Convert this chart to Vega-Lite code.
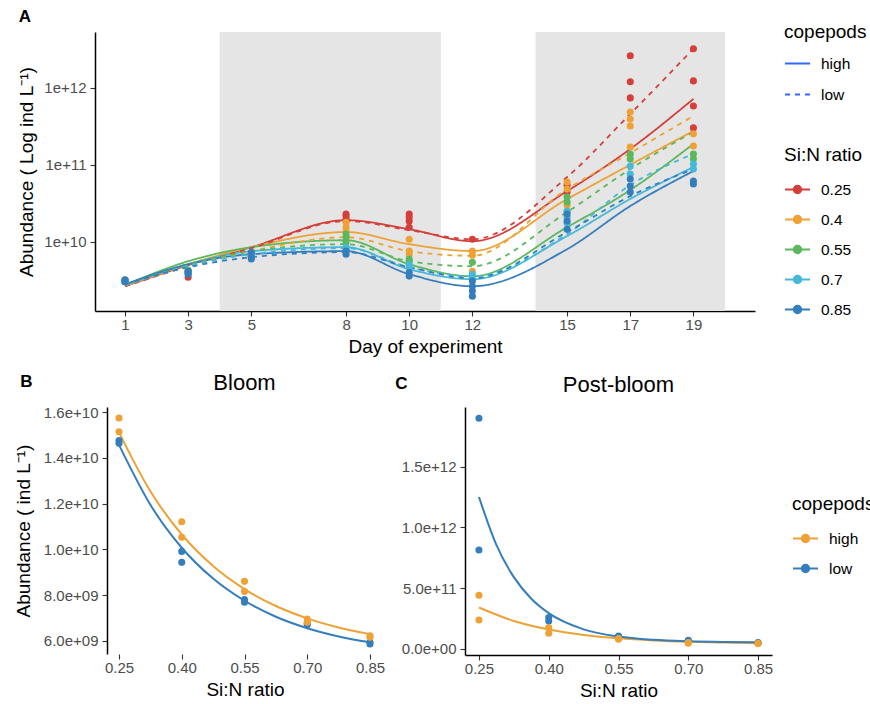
{
  "$schema": "https://vega.github.io/schema/vega-lite/v6.json",
  "padding": {"left": 14, "top": 8, "right": 0, "bottom": 0},
  "background": "white",
  "config": {
    "font": "Liberation Sans",
    "view": {"stroke": null},
    "axis": {"domainColor": "#000000", "domainWidth": 1.5, "tickColor": "#333333", "tickWidth": 1.1, "tickSize": 5, "labelColor": "#4D4D4D", "labelFontSize": 15, "labelPadding": 2, "titleFontSize": 19, "titleFontWeight": "normal", "titleColor": "#000000", "grid": false, "labelFlush": false},
    "axisY": {"titlePadding": 7, "labelPadding": 4},
    "axisX": {"titlePadding": 5, "labelPadding": 1},
    "legend": {"labelFontSize": 15.5, "titleFontSize": 19, "titleFontWeight": "normal", "titleColor": "#000000", "labelColor": "#000000", "rowPadding": 8, "titlePadding": 11, "labelOffset": 10, "symbolSize": 625, "symbolStrokeWidth": 2},
    "title": {"fontSize": 22, "fontWeight": "normal", "color": "#000000", "offset": 10}
  },
  "datasets": {
    "shade": [{"start": 4, "end": 11}, {"start": 14, "end": 20}],
    "fitA": [
      {"day": 1, "ratio": "0.25", "copepods": "high", "abundance": 2.66e9},
      {"day": 3, "ratio": "0.25", "copepods": "high", "abundance": 4.98e9},
      {"day": 5, "ratio": "0.25", "copepods": "high", "abundance": 8.53e9},
      {"day": 8, "ratio": "0.25", "copepods": "high", "abundance": 1.91e10},
      {"day": 10, "ratio": "0.25", "copepods": "high", "abundance": 1.46e10},
      {"day": 12, "ratio": "0.25", "copepods": "high", "abundance": 1.02e10},
      {"day": 15, "ratio": "0.25", "copepods": "high", "abundance": 4.55e10},
      {"day": 17, "ratio": "0.25", "copepods": "high", "abundance": 1.6e11},
      {"day": 19, "ratio": "0.25", "copepods": "high", "abundance": 7.13e11},
      {"day": 1, "ratio": "0.4", "copepods": "high", "abundance": 2.66e9},
      {"day": 3, "ratio": "0.4", "copepods": "high", "abundance": 5.13e9},
      {"day": 5, "ratio": "0.4", "copepods": "high", "abundance": 8.53e9},
      {"day": 8, "ratio": "0.4", "copepods": "high", "abundance": 1.34e10},
      {"day": 10, "ratio": "0.4", "copepods": "high", "abundance": 9.33e9},
      {"day": 12, "ratio": "0.4", "copepods": "high", "abundance": 7.6e9},
      {"day": 15, "ratio": "0.4", "copepods": "high", "abundance": 3.59e10},
      {"day": 17, "ratio": "0.4", "copepods": "high", "abundance": 1.0e11},
      {"day": 19, "ratio": "0.4", "copepods": "high", "abundance": 2.74e11},
      {"day": 1, "ratio": "0.55", "copepods": "high", "abundance": 2.74e9},
      {"day": 3, "ratio": "0.55", "copepods": "high", "abundance": 5.61e9},
      {"day": 5, "ratio": "0.55", "copepods": "high", "abundance": 8.53e9},
      {"day": 8, "ratio": "0.55", "copepods": "high", "abundance": 1.05e10},
      {"day": 10, "ratio": "0.55", "copepods": "high", "abundance": 5.13e9},
      {"day": 12, "ratio": "0.55", "copepods": "high", "abundance": 3.58e9},
      {"day": 15, "ratio": "0.55", "copepods": "high", "abundance": 1.55e10},
      {"day": 17, "ratio": "0.55", "copepods": "high", "abundance": 4.7e10},
      {"day": 19, "ratio": "0.55", "copepods": "high", "abundance": 1.86e11},
      {"day": 1, "ratio": "0.7", "copepods": "high", "abundance": 2.74e9},
      {"day": 3, "ratio": "0.7", "copepods": "high", "abundance": 5.13e9},
      {"day": 5, "ratio": "0.7", "copepods": "high", "abundance": 7.57e9},
      {"day": 8, "ratio": "0.7", "copepods": "high", "abundance": 8.53e9},
      {"day": 10, "ratio": "0.7", "copepods": "high", "abundance": 4.42e9},
      {"day": 12, "ratio": "0.7", "copepods": "high", "abundance": 3.28e9},
      {"day": 15, "ratio": "0.7", "copepods": "high", "abundance": 1.19e10},
      {"day": 17, "ratio": "0.7", "copepods": "high", "abundance": 3.6e10},
      {"day": 19, "ratio": "0.7", "copepods": "high", "abundance": 9.34e10},
      {"day": 1, "ratio": "0.85", "copepods": "high", "abundance": 2.82e9},
      {"day": 3, "ratio": "0.85", "copepods": "high", "abundance": 5.13e9},
      {"day": 5, "ratio": "0.85", "copepods": "high", "abundance": 6.92e9},
      {"day": 8, "ratio": "0.85", "copepods": "high", "abundance": 7.57e9},
      {"day": 10, "ratio": "0.85", "copepods": "high", "abundance": 3.81e9},
      {"day": 12, "ratio": "0.85", "copepods": "high", "abundance": 2.66e9},
      {"day": 15, "ratio": "0.85", "copepods": "high", "abundance": 8.04e9},
      {"day": 17, "ratio": "0.85", "copepods": "high", "abundance": 2.91e10},
      {"day": 19, "ratio": "0.85", "copepods": "high", "abundance": 8.28e10},
      {"day": 1, "ratio": "0.25", "copepods": "low", "abundance": 2.66e9},
      {"day": 3, "ratio": "0.25", "copepods": "low", "abundance": 4.83e9},
      {"day": 5, "ratio": "0.25", "copepods": "low", "abundance": 8.28e9},
      {"day": 8, "ratio": "0.25", "copepods": "low", "abundance": 1.86e10},
      {"day": 10, "ratio": "0.25", "copepods": "low", "abundance": 1.42e10},
      {"day": 12, "ratio": "0.25", "copepods": "low", "abundance": 1.08e10},
      {"day": 15, "ratio": "0.25", "copepods": "low", "abundance": 6.92e10},
      {"day": 17, "ratio": "0.25", "copepods": "low", "abundance": 4.55e11},
      {"day": 19, "ratio": "0.25", "copepods": "low", "abundance": 3.18e12},
      {"day": 1, "ratio": "0.4", "copepods": "low", "abundance": 2.74e9},
      {"day": 3, "ratio": "0.4", "copepods": "low", "abundance": 4.83e9},
      {"day": 5, "ratio": "0.4", "copepods": "low", "abundance": 7.57e9},
      {"day": 8, "ratio": "0.4", "copepods": "low", "abundance": 1.15e10},
      {"day": 10, "ratio": "0.4", "copepods": "low", "abundance": 7.57e9},
      {"day": 12, "ratio": "0.4", "copepods": "low", "abundance": 6.6e9},
      {"day": 15, "ratio": "0.4", "copepods": "low", "abundance": 4.83e10},
      {"day": 17, "ratio": "0.4", "copepods": "low", "abundance": 1.42e11},
      {"day": 19, "ratio": "0.4", "copepods": "low", "abundance": 4.29e11},
      {"day": 1, "ratio": "0.55", "copepods": "low", "abundance": 2.74e9},
      {"day": 3, "ratio": "0.55", "copepods": "low", "abundance": 4.98e9},
      {"day": 5, "ratio": "0.55", "copepods": "low", "abundance": 7.57e9},
      {"day": 8, "ratio": "0.55", "copepods": "low", "abundance": 9.33e9},
      {"day": 10, "ratio": "0.55", "copepods": "low", "abundance": 5.61e9},
      {"day": 12, "ratio": "0.55", "copepods": "low", "abundance": 4.83e9},
      {"day": 15, "ratio": "0.55", "copepods": "low", "abundance": 2.43e10},
      {"day": 17, "ratio": "0.55", "copepods": "low", "abundance": 8.79e10},
      {"day": 19, "ratio": "0.55", "copepods": "low", "abundance": 2.66e11},
      {"day": 1, "ratio": "0.7", "copepods": "low", "abundance": 2.74e9},
      {"day": 3, "ratio": "0.7", "copepods": "low", "abundance": 4.83e9},
      {"day": 5, "ratio": "0.7", "copepods": "low", "abundance": 6.92e9},
      {"day": 8, "ratio": "0.7", "copepods": "low", "abundance": 8.28e9},
      {"day": 10, "ratio": "0.7", "copepods": "low", "abundance": 4.69e9},
      {"day": 12, "ratio": "0.7", "copepods": "low", "abundance": 3.58e9},
      {"day": 15, "ratio": "0.7", "copepods": "low", "abundance": 1.26e10},
      {"day": 17, "ratio": "0.7", "copepods": "low", "abundance": 5.45e10},
      {"day": 19, "ratio": "0.7", "copepods": "low", "abundance": 1.38e11},
      {"day": 1, "ratio": "0.85", "copepods": "low", "abundance": 2.82e9},
      {"day": 3, "ratio": "0.85", "copepods": "low", "abundance": 4.69e9},
      {"day": 5, "ratio": "0.85", "copepods": "low", "abundance": 6.33e9},
      {"day": 8, "ratio": "0.85", "copepods": "low", "abundance": 7.35e9},
      {"day": 10, "ratio": "0.85", "copepods": "low", "abundance": 4.69e9},
      {"day": 12, "ratio": "0.85", "copepods": "low", "abundance": 3.38e9},
      {"day": 15, "ratio": "0.85", "copepods": "low", "abundance": 1.34e10},
      {"day": 17, "ratio": "0.85", "copepods": "low", "abundance": 3.92e10},
      {"day": 19, "ratio": "0.85", "copepods": "low", "abundance": 8.79e10}
    ],
    "ptsA": [
      {"day": 1, "ratio": "0.25", "abundance": 3.05e9}, {"day": 1, "ratio": "0.25", "abundance": 3.2e9},
      {"day": 3, "ratio": "0.25", "abundance": 3.48e9}, {"day": 3, "ratio": "0.25", "abundance": 4.0e9},
      {"day": 5, "ratio": "0.25", "abundance": 6.5e9}, {"day": 5, "ratio": "0.25", "abundance": 7.0e9},
      {"day": 8, "ratio": "0.25", "abundance": 2.29e10}, {"day": 8, "ratio": "0.25", "abundance": 2.16e10}, {"day": 8, "ratio": "0.25", "abundance": 1.97e10},
      {"day": 10, "ratio": "0.25", "abundance": 2.29e10}, {"day": 10, "ratio": "0.25", "abundance": 2.09e10}, {"day": 10, "ratio": "0.25", "abundance": 1.86e10}, {"day": 10, "ratio": "0.25", "abundance": 1.55e10},
      {"day": 12, "ratio": "0.25", "abundance": 1.08e10},
      {"day": 15, "ratio": "0.25", "abundance": 5.45e10}, {"day": 15, "ratio": "0.25", "abundance": 4.42e10},
      {"day": 17, "ratio": "0.25", "abundance": 2.58e12}, {"day": 17, "ratio": "0.25", "abundance": 1.19e12}, {"day": 17, "ratio": "0.25", "abundance": 7.35e11},
      {"day": 19, "ratio": "0.25", "abundance": 3.18e12}, {"day": 19, "ratio": "0.25", "abundance": 1.22e12}, {"day": 19, "ratio": "0.25", "abundance": 5.78e11}, {"day": 19, "ratio": "0.25", "abundance": 3.0e11},
      {"day": 1, "ratio": "0.4", "abundance": 3.05e9}, {"day": 1, "ratio": "0.4", "abundance": 3.2e9},
      {"day": 3, "ratio": "0.4", "abundance": 4.0e9}, {"day": 3, "ratio": "0.4", "abundance": 4.2e9},
      {"day": 5, "ratio": "0.4", "abundance": 6.5e9}, {"day": 5, "ratio": "0.4", "abundance": 7.0e9},
      {"day": 8, "ratio": "0.4", "abundance": 1.8e10}, {"day": 8, "ratio": "0.4", "abundance": 1.55e10}, {"day": 8, "ratio": "0.4", "abundance": 1.38e10},
      {"day": 10, "ratio": "0.4", "abundance": 1.08e10}, {"day": 10, "ratio": "0.4", "abundance": 7.6e9}, {"day": 10, "ratio": "0.4", "abundance": 6.9e9},
      {"day": 12, "ratio": "0.4", "abundance": 7.6e9}, {"day": 12, "ratio": "0.4", "abundance": 6.7e9}, {"day": 12, "ratio": "0.4", "abundance": 4.16e9},
      {"day": 15, "ratio": "0.4", "abundance": 5.96e10}, {"day": 15, "ratio": "0.4", "abundance": 4.83e10}, {"day": 15, "ratio": "0.4", "abundance": 3.0e10}, {"day": 15, "ratio": "0.4", "abundance": 2.5e10},
      {"day": 17, "ratio": "0.4", "abundance": 4.83e11}, {"day": 17, "ratio": "0.4", "abundance": 3.92e11}, {"day": 17, "ratio": "0.4", "abundance": 3.18e11}, {"day": 17, "ratio": "0.4", "abundance": 1.7e11},
      {"day": 19, "ratio": "0.4", "abundance": 2.51e11}, {"day": 19, "ratio": "0.4", "abundance": 1.75e11},
      {"day": 1, "ratio": "0.55", "abundance": 3.05e9}, {"day": 1, "ratio": "0.55", "abundance": 3.2e9},
      {"day": 3, "ratio": "0.55", "abundance": 4.1e9}, {"day": 3, "ratio": "0.55", "abundance": 4.3e9},
      {"day": 5, "ratio": "0.55", "abundance": 6.5e9}, {"day": 5, "ratio": "0.55", "abundance": 7.0e9},
      {"day": 8, "ratio": "0.55", "abundance": 1.26e10}, {"day": 8, "ratio": "0.55", "abundance": 1.15e10}, {"day": 8, "ratio": "0.55", "abundance": 9.9e9},
      {"day": 10, "ratio": "0.55", "abundance": 6.0e9}, {"day": 10, "ratio": "0.55", "abundance": 5.6e9},
      {"day": 12, "ratio": "0.55", "abundance": 5.45e9},
      {"day": 15, "ratio": "0.55", "abundance": 3.81e10}, {"day": 15, "ratio": "0.55", "abundance": 3.28e10},
      {"day": 17, "ratio": "0.55", "abundance": 1.38e11}, {"day": 17, "ratio": "0.55", "abundance": 1.19e11},
      {"day": 19, "ratio": "0.55", "abundance": 1.38e11}, {"day": 19, "ratio": "0.55", "abundance": 1.19e11},
      {"day": 1, "ratio": "0.7", "abundance": 3.05e9}, {"day": 1, "ratio": "0.7", "abundance": 3.2e9},
      {"day": 3, "ratio": "0.7", "abundance": 3.9e9}, {"day": 3, "ratio": "0.7", "abundance": 4.0e9},
      {"day": 5, "ratio": "0.7", "abundance": 6.5e9}, {"day": 5, "ratio": "0.7", "abundance": 7.0e9},
      {"day": 8, "ratio": "0.7", "abundance": 8.5e9}, {"day": 8, "ratio": "0.7", "abundance": 8.0e9},
      {"day": 10, "ratio": "0.7", "abundance": 5.1e9}, {"day": 10, "ratio": "0.7", "abundance": 4.7e9},
      {"day": 12, "ratio": "0.7", "abundance": 3.8e9}, {"day": 12, "ratio": "0.7", "abundance": 3.3e9},
      {"day": 15, "ratio": "0.7", "abundance": 2.5e10}, {"day": 15, "ratio": "0.7", "abundance": 2.09e10}, {"day": 15, "ratio": "0.7", "abundance": 1.75e10},
      {"day": 17, "ratio": "0.7", "abundance": 9.6e10}, {"day": 17, "ratio": "0.7", "abundance": 7.57e10},
      {"day": 19, "ratio": "0.7", "abundance": 1.02e11}, {"day": 19, "ratio": "0.7", "abundance": 8.79e10},
      {"day": 1, "ratio": "0.85", "abundance": 3.05e9}, {"day": 1, "ratio": "0.85", "abundance": 3.2e9},
      {"day": 3, "ratio": "0.85", "abundance": 3.81e9}, {"day": 3, "ratio": "0.85", "abundance": 4.16e9},
      {"day": 5, "ratio": "0.85", "abundance": 7.3e9}, {"day": 5, "ratio": "0.85", "abundance": 6.3e9}, {"day": 5, "ratio": "0.85", "abundance": 6.0e9},
      {"day": 8, "ratio": "0.85", "abundance": 7.6e9}, {"day": 8, "ratio": "0.85", "abundance": 6.9e9},
      {"day": 10, "ratio": "0.85", "abundance": 4.0e9}, {"day": 10, "ratio": "0.85", "abundance": 3.6e9},
      {"day": 12, "ratio": "0.85", "abundance": 3.1e9}, {"day": 12, "ratio": "0.85", "abundance": 2.66e9}, {"day": 12, "ratio": "0.85", "abundance": 2.3e9}, {"day": 12, "ratio": "0.85", "abundance": 1.97e9},
      {"day": 15, "ratio": "0.85", "abundance": 2.29e10}, {"day": 15, "ratio": "0.85", "abundance": 1.86e10}, {"day": 15, "ratio": "0.85", "abundance": 1.46e10},
      {"day": 17, "ratio": "0.85", "abundance": 6.52e10}, {"day": 17, "ratio": "0.85", "abundance": 5.29e10}, {"day": 17, "ratio": "0.85", "abundance": 4.42e10},
      {"day": 19, "ratio": "0.85", "abundance": 6.14e10}, {"day": 19, "ratio": "0.85", "abundance": 5.61e10}
    ],
    "bloomPts": [
      {"ratio": 0.25, "copepods": "low", "abundance": 1.476e10}, {"ratio": 0.25, "copepods": "low", "abundance": 1.464e10},
      {"ratio": 0.4, "copepods": "low", "abundance": 9.91e9}, {"ratio": 0.4, "copepods": "low", "abundance": 9.43e9},
      {"ratio": 0.55, "copepods": "low", "abundance": 7.8e9}, {"ratio": 0.55, "copepods": "low", "abundance": 7.69e9},
      {"ratio": 0.7, "copepods": "low", "abundance": 6.76e9}, {"ratio": 0.7, "copepods": "low", "abundance": 6.7e9},
      {"ratio": 0.85, "copepods": "low", "abundance": 5.93e9}, {"ratio": 0.85, "copepods": "low", "abundance": 5.86e9},
      {"ratio": 0.25, "copepods": "high", "abundance": 1.575e10}, {"ratio": 0.25, "copepods": "high", "abundance": 1.515e10},
      {"ratio": 0.4, "copepods": "high", "abundance": 1.121e10}, {"ratio": 0.4, "copepods": "high", "abundance": 1.053e10},
      {"ratio": 0.55, "copepods": "high", "abundance": 8.6e9}, {"ratio": 0.55, "copepods": "high", "abundance": 8.16e9},
      {"ratio": 0.7, "copepods": "high", "abundance": 6.95e9}, {"ratio": 0.7, "copepods": "high", "abundance": 6.81e9},
      {"ratio": 0.85, "copepods": "high", "abundance": 6.22e9}, {"ratio": 0.85, "copepods": "high", "abundance": 6.15e9}
    ],
    "bloomFit": [
      {"ratio": 0.25, "copepods": "high", "abundance": 1.512e10}, {"ratio": 0.325, "copepods": "high", "abundance": 1.254e10},
      {"ratio": 0.4, "copepods": "high", "abundance": 1.065e10}, {"ratio": 0.475, "copepods": "high", "abundance": 9.27e9},
      {"ratio": 0.55, "copepods": "high", "abundance": 8.26e9}, {"ratio": 0.625, "copepods": "high", "abundance": 7.52e9},
      {"ratio": 0.7, "copepods": "high", "abundance": 6.98e9}, {"ratio": 0.775, "copepods": "high", "abundance": 6.58e9},
      {"ratio": 0.85, "copepods": "high", "abundance": 6.29e9},
      {"ratio": 0.25, "copepods": "low", "abundance": 1.457e10}, {"ratio": 0.325, "copepods": "low", "abundance": 1.195e10},
      {"ratio": 0.4, "copepods": "low", "abundance": 1.007e10}, {"ratio": 0.475, "copepods": "low", "abundance": 8.72e9},
      {"ratio": 0.55, "copepods": "low", "abundance": 7.75e9}, {"ratio": 0.625, "copepods": "low", "abundance": 7.05e9},
      {"ratio": 0.7, "copepods": "low", "abundance": 6.55e9}, {"ratio": 0.775, "copepods": "low", "abundance": 6.19e9},
      {"ratio": 0.85, "copepods": "low", "abundance": 5.93e9}
    ],
    "postPts": [
      {"ratio": 0.25, "copepods": "low", "abundance": 1.902e12}, {"ratio": 0.25, "copepods": "low", "abundance": 8.14e11},
      {"ratio": 0.4, "copepods": "low", "abundance": 2.56e11}, {"ratio": 0.4, "copepods": "low", "abundance": 2.28e11},
      {"ratio": 0.55, "copepods": "low", "abundance": 1.04e11}, {"ratio": 0.55, "copepods": "low", "abundance": 1.0e11},
      {"ratio": 0.7, "copepods": "low", "abundance": 6.9e10}, {"ratio": 0.7, "copepods": "low", "abundance": 6.5e10},
      {"ratio": 0.85, "copepods": "low", "abundance": 5.0e10}, {"ratio": 0.85, "copepods": "low", "abundance": 4.6e10},
      {"ratio": 0.25, "copepods": "high", "abundance": 4.4e11}, {"ratio": 0.25, "copepods": "high", "abundance": 2.36e11},
      {"ratio": 0.4, "copepods": "high", "abundance": 1.73e11}, {"ratio": 0.4, "copepods": "high", "abundance": 1.26e11},
      {"ratio": 0.55, "copepods": "high", "abundance": 8.3e10}, {"ratio": 0.55, "copepods": "high", "abundance": 7.7e10},
      {"ratio": 0.7, "copepods": "high", "abundance": 4.9e10}, {"ratio": 0.7, "copepods": "high", "abundance": 4.4e10},
      {"ratio": 0.85, "copepods": "high", "abundance": 4.3e10}, {"ratio": 0.85, "copepods": "high", "abundance": 4.1e10}
    ],
    "postFit": [
      {"ratio": 0.25, "copepods": "high", "abundance": 3.39e11}, {"ratio": 0.325, "copepods": "high", "abundance": 2.275e11},
      {"ratio": 0.4, "copepods": "high", "abundance": 1.572e11}, {"ratio": 0.475, "copepods": "high", "abundance": 1.129e11},
      {"ratio": 0.55, "copepods": "high", "abundance": 8.5e10}, {"ratio": 0.625, "copepods": "high", "abundance": 6.74e10},
      {"ratio": 0.7, "copepods": "high", "abundance": 5.64e10}, {"ratio": 0.775, "copepods": "high", "abundance": 4.94e10},
      {"ratio": 0.85, "copepods": "high", "abundance": 4.5e10},
      {"ratio": 0.25, "copepods": "low", "abundance": 1.252e12}, {"ratio": 0.2875, "copepods": "low", "abundance": 8.56e11},
      {"ratio": 0.325, "copepods": "low", "abundance": 5.9e11}, {"ratio": 0.3625, "copepods": "low", "abundance": 4.12e11},
      {"ratio": 0.4, "copepods": "low", "abundance": 2.93e11}, {"ratio": 0.475, "copepods": "low", "abundance": 1.59e11},
      {"ratio": 0.55, "copepods": "low", "abundance": 9.9e10}, {"ratio": 0.625, "copepods": "low", "abundance": 7.2e10},
      {"ratio": 0.7, "copepods": "low", "abundance": 6.0e10}, {"ratio": 0.775, "copepods": "low", "abundance": 5.44e10},
      {"ratio": 0.85, "copepods": "low", "abundance": 5.2e10}
    ]
  },
  "columns": 1,
  "align": "none",
  "spacing": 16,
  "resolve": {"scale": {"color": "independent", "strokeDash": "independent"}, "legend": {"color": "independent", "strokeDash": "independent"}},
  "concat": [
    {
      "name": "A",
      "width": 660,
      "height": 279,
      "title": {"text": "A", "anchor": "start", "frame": "bounds", "fontWeight": "bold", "fontSize": 17, "offset": -3, "dx": 1},
      "layer": [
        {
          "data": {"name": "shade"},
          "mark": {"type": "rect", "color": "#E5E5E5"},
          "encoding": {
            "x": {"field": "start", "type": "quantitative", "title": "Day of experiment"},
            "x2": {"field": "end"}
          }
        },
        {
          "data": {"name": "fitA"},
          "mark": {"type": "line", "interpolate": "monotone", "strokeWidth": 1.8},
          "encoding": {
            "x": {"field": "day", "type": "quantitative", "title": "Day of experiment",
                  "scale": {"domain": [0.05, 20.95], "nice": false, "zero": false},
                  "axis": {"values": [1, 3, 5, 8, 10, 12, 15, 17, 19]}},
            "y": {"field": "abundance", "type": "quantitative", "title": "Abundance ( Log ind L⁻¹)",
                  "scale": {"type": "log", "domain": [1.27e9, 5.25e12], "nice": false},
                  "axis": {"values": [1e10, 1e11, 1e12], "format": ".0e"}},
            "color": {"field": "ratio", "type": "nominal",
                      "scale": {"domain": ["0.25", "0.4", "0.55", "0.7", "0.85"], "range": ["#D43F3A", "#EEA236", "#5CB85C", "#46B8DA", "#357EBD"]},
                      "legend": {"title": "Si:N ratio", "orient": "none", "legendX": 689, "legendY": 114,
                                 "symbolType": "M-1,0L1,0M0.3,0A0.3,0.3,0,1,1,-0.3,0A0.3,0.3,0,1,1,0.3,0Z"}},
            "strokeDash": {"field": "copepods", "type": "nominal",
                           "scale": {"domain": ["high", "low"], "range": [[1, 0], [5, 5]]},
                           "legend": {"title": "copepods", "orient": "none", "legendX": 689, "legendY": -9, "titlePadding": 8, "rowPadding": 9,
                                      "symbolType": "stroke", "symbolStrokeColor": "#3366FF"}}
          }
        },
        {
          "data": {"name": "ptsA"},
          "mark": {"type": "circle", "size": 50, "opacity": 1},
          "encoding": {
            "x": {"field": "day", "type": "quantitative", "title": "Day of experiment"},
            "y": {"field": "abundance", "type": "quantitative", "title": "Abundance ( Log ind L⁻¹)"},
            "color": {"field": "ratio", "type": "nominal"}
          }
        }
      ]
    },
    {
      "hconcat": [
        {
          "title": {"text": "B", "anchor": "start", "frame": "bounds", "fontWeight": "bold", "fontSize": 17, "offset": -19, "dx": 6},
          "hconcat": [
            {
              "width": 287,
              "height": 247,
              "title": {"text": "Bloom", "dx": 6},
              "layer": [
                {
                  "data": {"name": "bloomFit"},
                  "mark": {"type": "line", "interpolate": "monotone", "strokeWidth": 2},
                  "encoding": {
                    "x": {"field": "ratio", "type": "quantitative", "title": "Si:N ratio",
                          "scale": {"domain": [0.1926, 0.8787], "nice": false, "zero": false},
                          "axis": {"values": [0.25, 0.4, 0.55, 0.7, 0.85], "format": ".2f", "domain": false, "titleX": 150}},
                    "y": {"field": "abundance", "type": "quantitative", "title": "Abundance ( ind L⁻¹)",
                          "scale": {"domain": [5.42e9, 1.623e10], "nice": false, "zero": false},
                          "axis": {"values": [6e9, 8e9, 1e10, 1.2e10, 1.4e10, 1.6e10], "titlePadding": 10, "offset": -12, "labelExpr": "replace(format(datum.value, '.1e'), 'e+9', 'e+09')"}},
                    "color": {"field": "copepods", "type": "nominal",
                              "scale": {"domain": ["high", "low"], "range": ["#EEA236", "#357EBD"]}, "legend": null}
                  }
                },
                {
                  "data": {"name": "bloomPts"},
                  "mark": {"type": "circle", "size": 50, "opacity": 1},
                  "encoding": {
                    "x": {"field": "ratio", "type": "quantitative", "title": "Si:N ratio"},
                    "y": {"field": "abundance", "type": "quantitative", "title": "Abundance ( ind L⁻¹)"},
                    "color": {"field": "copepods", "type": "nominal", "legend": null}
                  }
                },
                {
                  "mark": {"type": "rule", "color": "#000000", "strokeWidth": 1.5},
                  "encoding": {
                    "x": {"datum": 0.2213, "type": "quantitative", "title": "Si:N ratio"},
                    "x2": {"datum": 0.8787},
                    "y": {"datum": 5.42e9, "type": "quantitative", "title": "Abundance ( ind L⁻¹)"}
                  }
                }
              ]
            }
          ]
        },
        {
          "title": {"text": "C", "anchor": "start", "frame": "bounds", "fontWeight": "bold", "fontSize": 17, "offset": -19, "dx": -6},
          "hconcat": [
            {
              "width": 307,
              "height": 248,
              "title": {"text": "Post-bloom"},
              "layer": [
                {
                  "data": {"name": "postFit"},
                  "mark": {"type": "line", "interpolate": "monotone", "strokeWidth": 2},
                  "encoding": {
                    "x": {"field": "ratio", "type": "quantitative", "title": "Si:N ratio",
                          "scale": {"domain": [0.22, 0.88], "nice": false, "zero": false},
                          "axis": {"values": [0.25, 0.4, 0.55, 0.7, 0.85], "format": ".2f"}},
                    "y": {"field": "abundance", "type": "quantitative", "title": null,
                          "scale": {"domain": [-5.3e10, 1.995e12], "nice": false, "zero": false},
                          "axis": {"values": [0, 5e11, 1e12, 1.5e12], "labelExpr": "replace(format(datum.value, '.1e'), 'e+0', 'e+00')"}},
                    "color": {"field": "copepods", "type": "nominal",
                              "scale": {"domain": ["high", "low"], "range": ["#EEA236", "#357EBD"]},
                              "legend": {"title": "copepods", "orient": "none", "legendX": 327, "legendY": 88,
                                         "symbolType": "M-1,0L1,0M0.3,0A0.3,0.3,0,1,1,-0.3,0A0.3,0.3,0,1,1,0.3,0Z"}}
                  }
                },
                {
                  "data": {"name": "postPts"},
                  "mark": {"type": "circle", "size": 50, "opacity": 1},
                  "encoding": {
                    "x": {"field": "ratio", "type": "quantitative", "title": "Si:N ratio"},
                    "y": {"field": "abundance", "type": "quantitative", "title": null},
                    "color": {"field": "copepods", "type": "nominal"}
                  }
                }
              ]
            }
          ]
        }
      ],
      "spacing": 10,
      "resolve": {"scale": {"color": "independent"}, "legend": {"color": "independent"}}
    }
  ]
}
